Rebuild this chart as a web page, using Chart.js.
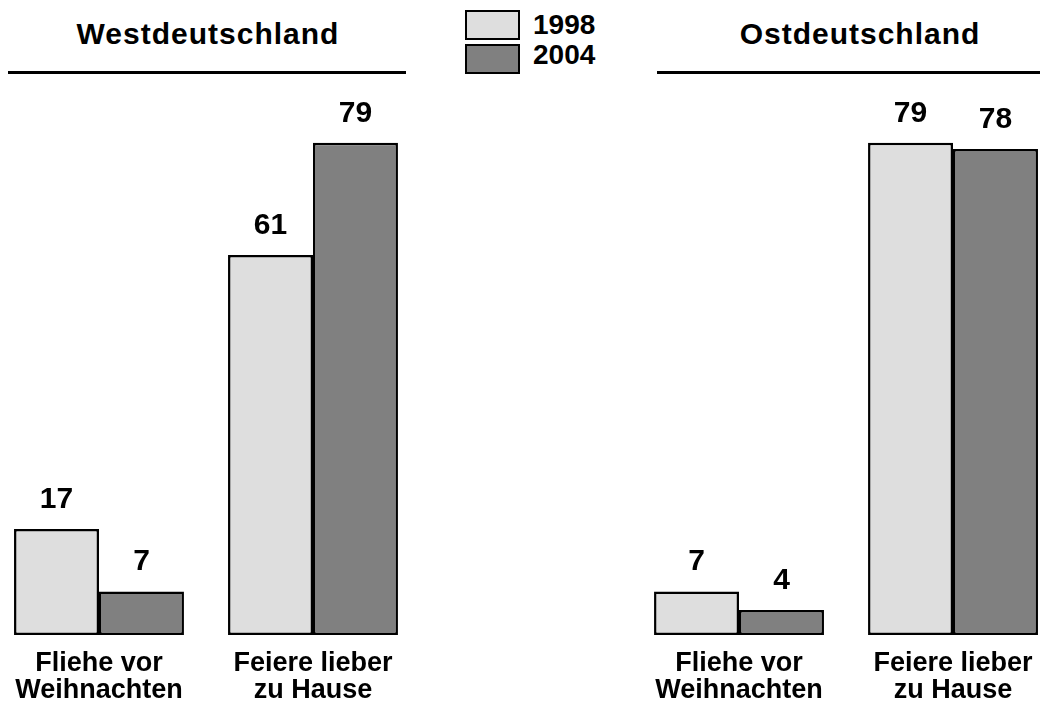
<!DOCTYPE html>
<html>
<head>
<meta charset="utf-8">
<script src="https://cdn.jsdelivr.net/npm/chart.js@4/dist/chart.umd.min.js"></script>
<style>
  html, body { margin: 0; padding: 0; background: #fff; }
  body { width: 1045px; height: 709px; position: relative; overflow: hidden; }
  .title { position: absolute; top: 19px; font: bold 30px/30px "Liberation Sans", Arial, sans-serif; letter-spacing: 1px; color: #000; white-space: nowrap; transform: translateX(-50%); }
  .rule { position: absolute; top: 71px; height: 3px; background: #000; }
  .lbox { position: absolute; left: 465px; width: 51px; height: 26px; border: 2.5px solid #000; }
  .ltext { position: absolute; left: 533px; font: bold 28px/28px "Liberation Sans", Arial, sans-serif; color: #000; }
  .chartWrap { position: absolute; top: 0; width: 428px; height: 709px; }
</style>
</head>
<body>
<div class="title" id="titleWest" style="left:208px"></div>
<div class="rule" style="left:8px; width:398px"></div>
<div class="title" id="titleEast" style="left:860px"></div>
<div class="rule" style="left:657px; width:383px"></div>

<div class="lbox" id="box0" style="top:10px"></div>
<div class="ltext" id="leg0" style="top:11px"></div>
<div class="lbox" id="box1" style="top:44px"></div>
<div class="ltext" id="leg1" style="top:41px"></div>

<div class="chartWrap" style="left:-8px"><canvas id="westChart"></canvas></div>
<div class="chartWrap" style="left:632px"><canvas id="eastChart"></canvas></div>

<script>
// Daten
const categories = [['Fliehe vor', 'Weihnachten'], ['Feiere lieber', 'zu Hause']];
const years = ['1998', '2004'];
const colors = ['#dedede', '#808080'];

const west1998 = [17, 61];
const west2004 = [7, 79];
const east1998 = [7, 79];
const east2004 = [4, 78];

// Titel und Legende
document.getElementById('titleWest').textContent = 'Westdeutschland';
document.getElementById('titleEast').textContent = 'Ostdeutschland';
years.forEach((y, i) => {
    document.getElementById('leg' + i).textContent = y;
    document.getElementById('box' + i).style.background = colors[i];
});

// Werte über den Balken
const valueLabels = {
    id: 'valueLabels',
    afterDatasetsDraw(chart) {
        const ctx = chart.ctx;
        ctx.save();
        ctx.font = 'bold 30px "Liberation Sans", Arial, sans-serif';
        ctx.fillStyle = '#000';
        ctx.textAlign = 'center';
        ctx.textBaseline = 'alphabetic';
        chart.data.datasets.forEach((ds, i) => {
            chart.getDatasetMeta(i).data.forEach((bar, j) => {
                ctx.fillText(ds.data[j], bar.x, bar.y - 21);
            });
        });
        ctx.restore();
    }
};

function makeChart(id, d1998, d2004) {
    const ctx = document.getElementById(id).getContext('2d');
    return new Chart(ctx, {
        type: 'bar',
        data: {
            labels: categories,
            datasets: [
                { label: years[0], data: d1998, backgroundColor: colors[0] },
                { label: years[1], data: d2004, backgroundColor: colors[1] }
            ]
        },
        options: {
            responsive: true,
            maintainAspectRatio: false,
            animation: false,
            categoryPercentage: 0.794,
            barPercentage: 1.0,
            datasets: {
                bar: { borderColor: '#000', borderWidth: 2.5, borderSkipped: false }
            },
            layout: { padding: { top: 12, left: 0, right: 0, bottom: 0 } },
            plugins: {
                legend: { display: false },
                tooltip: { enabled: false }
            },
            scales: {
                x: {
                    grid: { display: false, drawTicks: false },
                    border: { display: false },
                    ticks: {
                        color: '#000',
                        padding: 15,
                        maxRotation: 0,
                        autoSkip: false,
                        font: { family: '"Liberation Sans", Arial, sans-serif', weight: 'bold', size: 27, lineHeight: 1.0 }
                    },
                    afterFit(scale) { scale.height = 74; }
                },
                y: {
                    display: false,
                    min: 0,
                    max: 100
                }
            }
        },
        plugins: [valueLabels]
    });
}

makeChart('westChart', west1998, west2004);
makeChart('eastChart', east1998, east2004);
</script>
</body>
</html>
